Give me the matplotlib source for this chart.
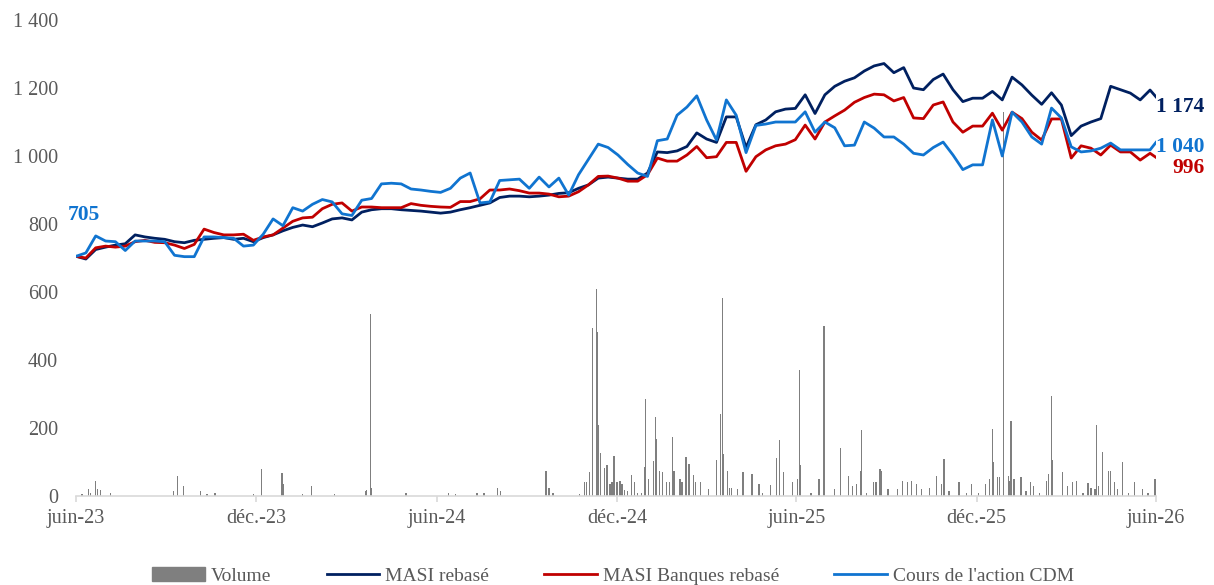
import pandas as pd
import matplotlib
matplotlib.use('Agg')
import matplotlib.pyplot as plt
from matplotlib.lines import Line2D
from matplotlib.patches import Patch
from matplotlib.ticker import FuncFormatter

plt.rcParams['font.family'] = 'Liberation Serif'

# echantillon tous les 10 jours + dernier point
dates = list(pd.date_range('2023-06-01', periods=110, freq='10D')) + [pd.Timestamp('2026-06-01')]

masi = [705, 697, 725, 732, 738, 742, 768, 762, 758, 755,
        748, 745, 752, 755, 758, 760, 755, 758, 748, 760,
        768, 780, 790, 797, 792, 803, 815, 818, 812, 835,
        842, 845, 845, 842, 840, 838, 835, 832, 835, 842,
        848, 855, 862, 878, 882, 882, 880, 882, 885, 890,
        892, 905, 915, 935, 938, 935, 932, 932, 950, 1012,
        1010, 1015, 1028, 1068, 1050, 1040, 1115, 1115, 1025, 1092,
        1106, 1130, 1138, 1140, 1180, 1125, 1180, 1205, 1220, 1230,
        1250, 1265, 1272, 1245, 1260, 1200, 1195, 1225, 1241, 1195,
        1160, 1170, 1170, 1190, 1165, 1232, 1209, 1179, 1152, 1186,
        1150, 1060, 1088, 1100, 1110, 1205, 1195, 1185, 1165, 1194,
        1174]

banques = [705, 700, 730, 735, 732, 735, 748, 752, 746, 745,
           738, 728, 740, 785, 775, 768, 768, 770, 752, 762,
           768, 788, 808, 818, 820, 845, 858, 862, 838, 850,
           850, 848, 848, 848, 860, 855, 852, 850, 849, 866,
           866, 874, 900, 900, 903, 898, 891, 891, 888, 880,
           882, 895, 915, 940, 941, 935, 926, 926, 945, 994,
           985, 985, 1003, 1028, 995, 998, 1040, 1040, 955, 998,
           1018, 1030, 1035, 1048, 1091, 1050, 1100, 1118, 1135, 1158,
           1172, 1182, 1180, 1162, 1172, 1112, 1110, 1150, 1159, 1100,
           1070, 1088, 1088, 1126, 1076, 1129, 1110, 1070, 1047, 1109,
           1109, 994, 1030, 1023, 1003, 1032, 1012, 1012, 988, 1008,
           996]

cdm = [705, 715, 765, 750, 748, 722, 750, 750, 750, 748,
       708, 704, 704, 762, 762, 760, 758, 735, 738, 770,
       815, 795, 848, 838, 858, 872, 865, 830, 825, 870,
       875, 918, 920, 918, 903, 900, 896, 893, 905, 935,
       950, 862, 865, 928, 930, 932, 905, 938, 909, 935,
       885, 945, 990, 1035, 1025, 1003, 975, 950, 940, 1045,
       1050, 1120, 1144, 1177, 1106, 1047, 1165, 1120, 1010, 1090,
       1094, 1100, 1100, 1100, 1130, 1070, 1100, 1083, 1030, 1032,
       1100, 1082, 1056, 1056, 1035, 1008, 1003, 1025, 1041, 1003,
       960, 974, 974, 1106, 1000, 1129, 1100, 1056, 1035, 1141,
       1112, 1027, 1012, 1015, 1023, 1038, 1018, 1018, 1018, 1018,
       1040]

vol_dates = [
    '2023-06-07', '2023-06-14', '2023-06-16', '2023-06-21', '2023-06-23', '2023-06-26', '2023-07-06',
    '2023-09-08', '2023-09-12', '2023-09-18', '2023-10-05', '2023-10-12', '2023-10-20', '2023-11-28',
    '2023-12-06', '2023-12-27', '2023-12-28', '2024-01-17', '2024-01-26', '2024-02-18',
    '2024-03-21', '2024-03-22', '2024-03-26', '2024-03-27', '2024-05-01', '2024-06-13', '2024-06-20',
    '2024-07-12', '2024-07-19', '2024-08-02', '2024-08-05', '2024-09-20', '2024-09-23', '2024-09-27',
    '2024-10-24', '2024-10-29', '2024-10-31', '2024-11-03', '2024-11-06', '2024-11-10', '2024-11-11',
    '2024-11-12', '2024-11-14', '2024-11-18', '2024-11-21', '2024-11-24', '2024-11-26', '2024-11-28',
    '2024-12-01', '2024-12-04', '2024-12-06', '2024-12-09', '2024-12-12', '2024-12-16', '2024-12-19',
    '2024-12-22', '2024-12-26', '2024-12-29', '2024-12-30', '2025-01-02', '2025-01-07', '2025-01-09',
    '2025-01-10', '2025-01-13', '2025-01-16', '2025-01-20', '2025-01-23', '2025-01-26', '2025-01-28',
    '2025-02-03', '2025-02-05', '2025-02-09', '2025-02-12', '2025-02-17', '2025-02-19', '2025-02-24',
    '2025-03-04', '2025-03-12', '2025-03-16', '2025-03-18', '2025-03-19', '2025-03-23', '2025-03-25',
    '2025-03-27', '2025-04-02', '2025-04-08', '2025-04-17', '2025-04-24', '2025-04-28', '2025-05-06',
    '2025-05-12', '2025-05-15', '2025-05-19', '2025-05-28', '2025-06-02', '2025-06-04', '2025-06-05',
    '2025-06-16', '2025-06-24', '2025-06-29', '2025-07-10', '2025-07-16', '2025-07-24', '2025-07-28',
    '2025-08-01', '2025-08-05', '2025-08-06', '2025-08-11', '2025-08-18', '2025-08-21', '2025-08-25',
    '2025-08-26', '2025-09-02', '2025-09-12', '2025-09-17', '2025-09-22', '2025-09-26', '2025-10-01',
    '2025-10-06', '2025-10-14', '2025-10-21', '2025-10-26', '2025-10-29', '2025-11-03', '2025-11-13',
    '2025-11-21', '2025-11-26', '2025-12-03', '2025-12-10', '2025-12-14', '2025-12-17', '2025-12-18',
    '2025-12-22', '2025-12-24', '2025-12-28', '2026-01-02', '2026-01-04', '2026-01-05', '2026-01-08',
    '2026-01-15', '2026-01-20', '2026-01-25', '2026-01-28', '2026-02-03', '2026-02-10', '2026-02-12',
    '2026-02-15', '2026-02-16', '2026-02-26', '2026-03-03', '2026-03-08', '2026-03-12', '2026-03-19',
    '2026-03-24', '2026-03-27', '2026-03-31', '2026-04-02', '2026-04-04', '2026-04-08', '2026-04-14',
    '2026-04-16', '2026-04-20', '2026-04-23', '2026-04-28', '2026-05-04', '2026-05-10', '2026-05-18',
    '2026-05-24', '2026-05-31']

vol_values = [
    5, 20, 10, 45, 20, 18, 10,
    15, 59, 30, 15, 5, 10, 5,
    79, 67, 35, 5, 30, 5,
    15, 18, 536, 25, 8, 8, 6,
    8, 10, 25, 15, 75, 25, 8,
    5, 40, 42, 70, 494, 608, 483,
    209, 127, 82, 91, 35, 40, 118,
    40, 45, 35, 18, 15, 62, 42,
    10, 10, 85, 285, 50, 104, 233,
    168, 75, 70, 40, 40, 173, 75,
    50, 40, 115, 95, 62, 40, 40,
    20, 105, 241, 582, 125, 75, 25,
    25, 20, 70, 65, 35, 10, 32,
    112, 165, 70, 40, 50, 371, 90,
    10, 50, 500, 20, 140, 58, 30,
    35, 75, 195, 10, 40, 40, 80,
    75, 20, 20, 45, 42, 45, 35,
    20, 25, 60, 35, 108, 15, 40,
    10, 35, 10, 35, 50, 197, 100,
    55, 55, 1130, 60, 45, 222, 50,
    55, 15, 40, 30, 10, 45, 65,
    295, 105, 70, 30, 40, 45, 10,
    38, 25, 20, 208, 30, 130, 75,
    75, 40, 20, 100, 10, 40, 20,
    8, 50]

tick_dates = ['2023-06-01', '2023-12-01', '2024-06-01', '2024-12-01',
              '2025-06-01', '2025-12-01', '2026-06-01']
tick_labels = ['juin-23', 'déc.-23', 'juin-24', 'déc.-24', 'juin-25', 'déc.-25', 'juin-26']
y_ticks = [0, 200, 400, 600, 800, 1000, 1200, 1400]

c_vol = '#7f7f7f'
c_masi = '#002060'
c_banq = '#c00000'
c_cdm = '#1074d0'
c_txt = '#595959'

fig = plt.figure(figsize=(12.14, 5.85), dpi=100)
ax = fig.add_axes([0.0626, 0.1521, 0.8896, 0.8137])

ax.bar(pd.to_datetime(vol_dates), vol_values, width=1.3, color=c_vol, linewidth=0, zorder=1)
ax.plot(dates, masi, color=c_masi, lw=2.0, zorder=2)
ax.plot(dates, banques, color=c_banq, lw=2.0, zorder=3)
ax.plot(dates, cdm, color=c_cdm, lw=2.0, zorder=4)

ax.set_xlim(pd.Timestamp(tick_dates[0]), pd.Timestamp(tick_dates[-1]))
ax.set_ylim(y_ticks[0], y_ticks[-1])
ax.set_yticks(y_ticks)
ax.yaxis.set_major_formatter(FuncFormatter(lambda v, p: f'{v:,.0f}'.replace(',', ' ')))
ax.set_xticks(pd.to_datetime(tick_dates))
ax.set_xticklabels(tick_labels)

for s in ['top', 'right', 'left']:
    ax.spines[s].set_visible(False)
ax.spines['bottom'].set_color('#d9d9d9')
ax.spines['bottom'].set_linewidth(1.2)

ax.tick_params(axis='y', length=0, pad=13, labelsize=14.5, labelcolor=c_txt)
ax.tick_params(axis='x', length=4, width=1.2, color='#d9d9d9', pad=5, labelsize=14.5, labelcolor=c_txt)

# etiquettes debut / fin
def fmt(v):
    return f'{v:,.0f}'.replace(',', ' ')

ax.annotate(fmt(cdm[0]), (dates[0], cdm[0]), xytext=(6, 30), textcoords='offset points',
            ha='center', va='center', color=c_cdm, fontsize=15.5, fontweight='bold')
ax.annotate(fmt(masi[-1]), (dates[-1], masi[-1]), xytext=(35, -7), textcoords='offset points',
            ha='right', va='center', color=c_masi, fontsize=15.5, fontweight='bold',
            annotation_clip=False)
ax.annotate(fmt(cdm[-1]), (dates[-1], cdm[-1]), xytext=(35, -3), textcoords='offset points',
            ha='right', va='center', color=c_cdm, fontsize=15.5, fontweight='bold',
            annotation_clip=False)
ax.annotate(fmt(banques[-1]), (dates[-1], banques[-1]), xytext=(35, -8), textcoords='offset points',
            ha='right', va='center', color=c_banq, fontsize=15.5, fontweight='bold',
            annotation_clip=False)

handles = [Patch(color=c_vol),
           Line2D([], [], color=c_masi, lw=2.0),
           Line2D([], [], color=c_banq, lw=2.0),
           Line2D([], [], color=c_cdm, lw=2.0)]
labels = ['Volume', 'MASI rebasé', 'MASI Banques rebasé', "Cours de l'action CDM"]
fig.legend(handles, labels, loc='lower center', bbox_to_anchor=(0.505, -0.03), ncol=4,
           frameon=False, fontsize=14, handlelength=2.7, columnspacing=2.85,
           handletextpad=0.3, labelcolor=c_txt)

fig.savefig('out.png', dpi=100)
